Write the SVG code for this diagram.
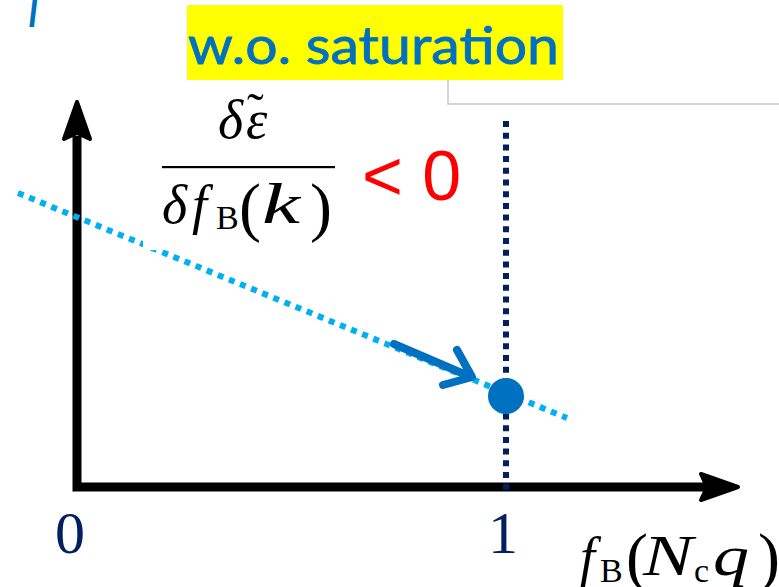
<svg xmlns="http://www.w3.org/2000/svg" width="779" height="587" viewBox="0 0 779 587">
<style>
.serif{font-family:"Liberation Serif","Times New Roman",serif;fill:#000}
.it{font-style:italic}
.axis{fill:none;stroke:#000;stroke-width:9}
.head{fill:#000;stroke:#000;stroke-width:4;stroke-linejoin:round}
.tick{font-family:"Liberation Serif","Times New Roman",serif;font-size:60px;fill:#002060;text-anchor:middle}
</style>
<rect width="779" height="587" fill="#fff"/>
<g id="frame">
<polyline points="448,80 448,104 779,104" fill="none" stroke="#c8c8c8" stroke-width="1.5"/>
</g>
<g id="title">
<rect x="187" y="5" width="376" height="75" fill="#ffff00"/>
<text x="188" y="64" font-family="Lato,'Open Sans',sans-serif" font-size="52" fill="#0070c0" stroke="#0070c0" stroke-width="0.8" textLength="371" lengthAdjust="spacingAndGlyphs">w.o. saturation</text>
</g>
<g id="corner-mark">
<text x="27" y="27" font-family="Lato,'Open Sans',sans-serif" font-style="italic" font-size="48" fill="#0070c0">I</text>
</g>
<g id="axes">
<polyline class="axis" points="77,136 77,487 705,487"/>
<path class="head" d="M77,102 L64,139 L77,133 L90,139 Z"/>
<path class="head" d="M738,487 L701,474 L707,487 L701,500 Z"/>
</g>
<g id="connectors">
<line id="trend" x1="18" y1="193" x2="567" y2="418" stroke="#00b0f0" stroke-width="6" stroke-dasharray="6 6"/>
<rect x="143" y="100" width="200" height="150" fill="#fff"/>
<line id="limit" x1="506" y1="121" x2="506" y2="492" stroke="#002060" stroke-width="6" stroke-dasharray="6 5.7"/>
<g id="move-arrow" fill="none" stroke="#0070c0" stroke-width="8" stroke-linecap="round" stroke-linejoin="round">
<line x1="394" y1="344" x2="471" y2="377"/>
<polyline points="457,350 472,377 443,385"/>
</g>
</g>
<g id="fraction">
<text class="serif it" x="218" y="138" font-size="54">δ</text>
<text class="serif it" x="246" y="138" font-size="54">ε</text>
<text class="serif" x="247" y="128" font-size="50">˜</text>
<rect x="162" y="166" width="173" height="2.2" fill="#000"/>
<text class="serif" y="223" font-size="54"><tspan class="it" x="162">δ</tspan><tspan class="it" x="192">f</tspan></text>
<text class="serif" x="216" y="229" font-size="34">B</text>
<text class="serif" x="239" y="229" font-size="66">(</text>
<text class="serif it" x="262" y="223" font-size="58" textLength="38" lengthAdjust="spacingAndGlyphs">k</text>
<text class="serif" x="310" y="229" font-size="66">)</text>
</g>
<g id="inequality">
<text x="362" y="200" font-family="'Liberation Sans',Arial,sans-serif" font-size="70" fill="#ff0000">&lt; 0</text>
</g>
<g id="point">
<circle cx="506" cy="396" r="18" fill="#0070c0"/>
</g>
<g id="labels">
<text class="tick" x="70" y="553">0</text>
<text class="tick" x="503" y="553">1</text>
<text class="serif it" x="580" y="575" font-size="54">f</text>
<text class="serif" x="600" y="582" font-size="34">B</text>
<text class="serif" x="626" y="579" font-size="66">(</text>
<text class="serif it" x="643" y="575" font-size="56" textLength="50" lengthAdjust="spacingAndGlyphs">N</text>
<text class="serif" x="694" y="582" font-size="34">c</text>
<text class="serif it" x="713" y="575" font-size="58" textLength="36" lengthAdjust="spacingAndGlyphs">q</text>
<text class="serif" x="758" y="579" font-size="66">)</text>
</g>
</svg>
